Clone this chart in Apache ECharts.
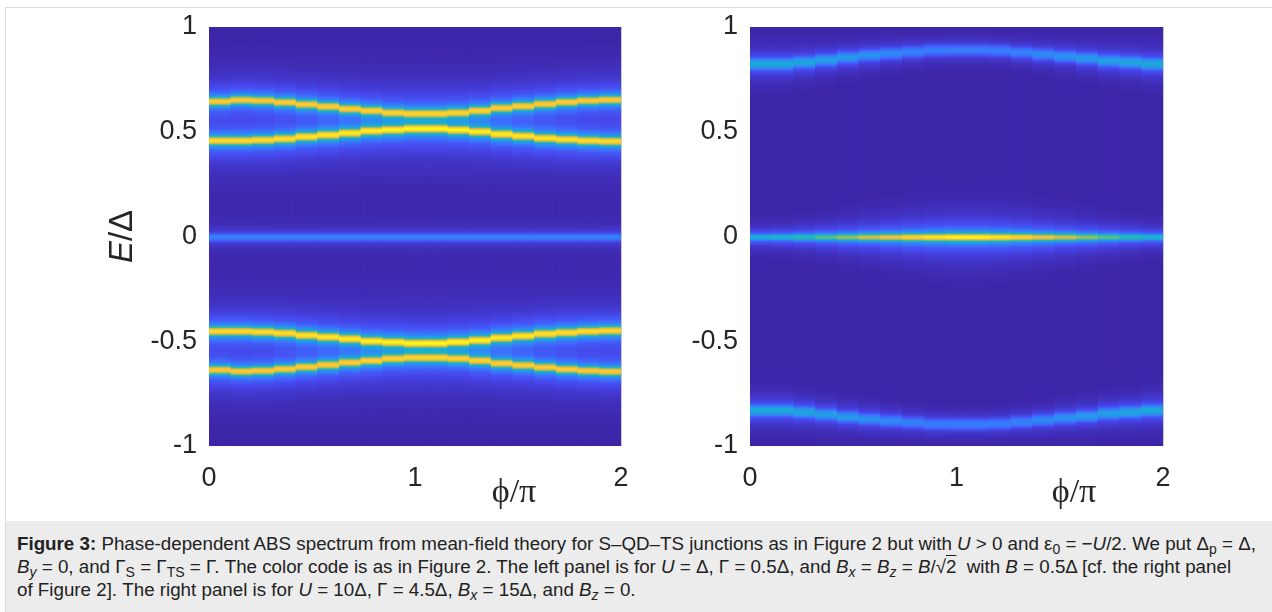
<!DOCTYPE html>
<html>
<head>
<meta charset="utf-8">
<script src="https://cdn.jsdelivr.net/npm/echarts@6/dist/echarts.min.js"></script>
<style>
  html, body { margin: 0; padding: 0; background: #fff; }
  #frame { position: absolute; left: 5px; top: 7px; width: 1267px; height: 605px;
           border-top: 1px solid #dcdcdc; border-left: 1px solid #dcdcdc; }
  #chart { position: absolute; left: 0; top: 0; width: 1272px; height: 520px; }
  #caption { position: absolute; left: 6px; top: 521px; width: 1266px; height: 91px;
             background: #ececec; box-sizing: border-box; padding: 11px 0 0 11px;
             font-family: 'Liberation Sans', Arial, sans-serif; font-size: 18.75px;
             line-height: 23px; color: #222; white-space: nowrap; }
  #caption sub { font-size: 0.75em; line-height: 0; vertical-align: -0.3em; }
  .sq { text-decoration: overline; }
</style>
</head>
<body>
<div id="frame"></div>
<div id="chart"></div>
<div id="caption">
  <b>Figure 3:</b> Phase-dependent ABS spectrum from mean-field theory for S–QD–TS junctions as in Figure 2 but with <i>U</i> &gt; 0 and ε<sub>0</sub> = −<i>U</i>/2. We put Δ<sub>p</sub> = Δ,<br>
  <i>B<sub>y</sub></i> = 0, and Γ<sub>S</sub> = Γ<sub>TS</sub> = Γ. The color code is as in Figure 2. The left panel is for <i>U</i> = Δ, Γ = 0.5Δ, and <i>B<sub>x</sub></i> = <i>B<sub>z</sub></i> = <i>B</i>/√<span class="sq">2</span>&nbsp; with <i>B</i> = 0.5Δ [cf. the right panel<br>
  of Figure 2]. The right panel is for <i>U</i> = 10Δ, Γ = 4.5Δ, <i>B<sub>x</sub></i> = 15Δ, and <i>B<sub>z</sub></i> = 0.
</div>
<script>
// Phase grid: 19 columns spanning phi/pi = 0 .. 2
const phiColumns = ['0.00','0.11','0.21','0.32','0.42','0.53','0.63','0.74','0.84','0.95','1.05','1.16','1.26','1.37','1.47','1.58','1.68','1.79','1.89'];
const xTickLabels = ['0', '1', '2'];
const yTickLabels = ['-1', '-0.5', '0', '0.5', '1'];

// Left panel: Andreev bound state energies E/Delta per phase column
const leftBandA = [0.648,0.655,0.652,0.644,0.634,0.624,0.613,0.604,0.594,0.590,0.590,0.594,0.604,0.617,0.626,0.636,0.645,0.652,0.656];
const leftBandB = [0.461,0.461,0.464,0.470,0.480,0.488,0.497,0.508,0.513,0.518,0.518,0.512,0.504,0.492,0.483,0.473,0.467,0.461,0.458];
const leftBandC = [-0.449,-0.449,-0.452,-0.458,-0.468,-0.476,-0.485,-0.496,-0.501,-0.506,-0.506,-0.500,-0.492,-0.480,-0.471,-0.461,-0.455,-0.449,-0.446];
const leftBandD = [-0.633,-0.640,-0.637,-0.629,-0.619,-0.609,-0.598,-0.589,-0.579,-0.575,-0.575,-0.579,-0.589,-0.602,-0.611,-0.621,-0.630,-0.637,-0.641];
const leftBandZero = [0,0,0,0,0,0,0,0,0,0,0,0,0,0,0,0,0,0,0];
// Left panel: peak spectral weight of each state (colour scale 0..1)
const leftPeakA = [0.86,0.86,0.86,0.87,0.87,0.88,0.88,0.89,0.89,0.90,0.90,0.89,0.89,0.88,0.88,0.87,0.87,0.86,0.86];
const leftPeakB = [0.92,0.92,0.93,0.94,0.95,0.96,0.97,0.98,0.99,1.00,1.00,0.99,0.98,0.97,0.96,0.95,0.94,0.93,0.92];
const leftPeakC = [0.92,0.92,0.93,0.94,0.95,0.96,0.97,0.98,0.99,1.00,1.00,0.99,0.98,0.97,0.96,0.95,0.94,0.93,0.92];
const leftPeakD = [0.86,0.86,0.86,0.87,0.87,0.88,0.88,0.89,0.89,0.90,0.90,0.89,0.89,0.88,0.88,0.87,0.87,0.86,0.86];
const leftPeakZero = [0.28,0.28,0.28,0.28,0.28,0.28,0.28,0.28,0.28,0.28,0.28,0.28,0.28,0.28,0.28,0.28,0.28,0.28,0.28];

// Right panel: state energies per phase column
const rightBandTop = [0.827,0.827,0.835,0.846,0.858,0.868,0.877,0.885,0.892,0.893,0.893,0.890,0.882,0.873,0.863,0.854,0.842,0.835,0.827];
const rightBandZero = [0,0,0,0,0,0,0,0,0,0,0,0,0,0,0,0,0,0,0];
const rightBandBottom = [-0.827,-0.827,-0.835,-0.846,-0.858,-0.868,-0.877,-0.885,-0.892,-0.893,-0.893,-0.890,-0.882,-0.873,-0.863,-0.854,-0.842,-0.835,-0.827];
const rightPeakTop = [0.40,0.40,0.38,0.36,0.34,0.32,0.30,0.28,0.27,0.27,0.27,0.27,0.28,0.30,0.32,0.34,0.36,0.38,0.40];
const rightPeakZero = [0.42,0.45,0.50,0.58,0.66,0.74,0.82,0.90,0.96,1.00,1.00,0.96,0.90,0.82,0.74,0.66,0.58,0.50,0.45];
const rightPeakBottom = [0.40,0.40,0.38,0.36,0.34,0.32,0.30,0.28,0.27,0.27,0.27,0.27,0.28,0.30,0.32,0.34,0.36,0.38,0.40];

// Parula-like colour map
const parula = ['#3e26a8','#4747eb','#3e6fff','#2797eb','#18b0d2','#33b8a2','#7dbf73','#c8bd4a','#fdbb3c','#f5d92b','#f9fb15'];

// Energy rows of the spectral map (one per pixel row of the plot)
const N_ROWS = 419;
const energyRows = [];
for (let r = 0; r < N_ROWS; r++) energyRows.push((-1 + (r + 0.5) * 2 / N_ROWS).toFixed(4));

// Line shape: Gaussian core with a Lorentzian halo
function lineShape(d, core, halo) {
  const g = Math.exp(-d * d / (2 * core * core));
  const l = 1 / Math.sqrt(1 + d * d / (halo * halo));
  return Math.max(g, l);
}

// Broadened spectral density for each (phase, energy) cell
function spectralCells(bands) {
  const cells = [];
  for (let j = 0; j < phiColumns.length; j++) {
    for (let r = 0; r < N_ROWS; r++) {
      const e = +energyRows[r];
      let s = 0;
      for (const b of bands) {
        const f = b.peak[j] * lineShape(e - b.pos[j], b.core, b.halo);
        s += f * f;
      }
      const v = Math.max(0, Math.min(1, (Math.sqrt(s) - 0.04) / 0.96));
      cells.push([j, r, v]);
    }
  }
  return cells;
}

const leftCells = spectralCells([
  { pos: leftBandA, peak: leftPeakA, core: 0.018, halo: 0.011 },
  { pos: leftBandB, peak: leftPeakB, core: 0.018, halo: 0.011 },
  { pos: leftBandC, peak: leftPeakC, core: 0.018, halo: 0.011 },
  { pos: leftBandD, peak: leftPeakD, core: 0.018, halo: 0.011 },
  { pos: leftBandZero, peak: leftPeakZero, core: 0.017, halo: 0.011 }
]);
const rightCells = spectralCells([
  { pos: rightBandTop, peak: rightPeakTop, core: 0.025, halo: 0.015 },
  { pos: rightBandZero, peak: rightPeakZero, core: 0.015, halo: 0.010 },
  { pos: rightBandBottom, peak: rightPeakBottom, core: 0.025, halo: 0.015 }
]);

// One rectangle per cell, overlapping its neighbours slightly to avoid seams
function renderCell(params, api) {
  const j = api.value(0), r = api.value(1);
  const c = api.coord([j, r]);
  const size = api.size([1, 1]);
  const padW = j < phiColumns.length - 1 ? 0.8 : 0;
  const padH = r > 0 ? 0.8 : 0;
  return {
    type: 'rect',
    shape: { x: c[0] - size[0] / 2, y: c[1] - size[1] / 2, width: size[0] + padW, height: size[1] + padH },
    style: { fill: api.visual('color') }
  };
}

const tickFont = { color: '#262626', fontSize: 27, fontFamily: 'Liberation Sans, Arial, sans-serif' };
const panels = [
  { left: 209, width: 412 },
  { left: 750, width: 413 }
];

const grids = [];
const xAxes = [];
const yAxes = [];
panels.forEach((p, i) => {
  // grid for the spectral cells
  grids.push({ left: p.left, top: 27, width: p.width, height: 419 });
  // overlay grid carrying the physical axes
  grids.push({ left: p.left, top: 27, width: p.width, height: 419 });
  xAxes.push({ type: 'category', gridIndex: 2 * i, data: phiColumns, show: false });
  yAxes.push({ type: 'category', gridIndex: 2 * i, data: energyRows, show: false });
  xAxes.push({
    type: 'value', gridIndex: 2 * i + 1, min: 0, max: 2, interval: 1,
    axisLine: { show: true, lineStyle: { color: '#c8c8c8', width: 1 } },
    axisTick: { show: false }, splitLine: { show: false },
    axisLabel: { ...tickFont, margin: 19, formatter: v => xTickLabels[Math.round(v)] }
  });
  yAxes.push({
    type: 'value', gridIndex: 2 * i + 1, min: -1, max: 1, interval: 0.5,
    axisLine: { show: false }, axisTick: { show: false }, splitLine: { show: false },
    axisLabel: { ...tickFont, margin: 12, padding: [4, 0, 0, 0], formatter: v => yTickLabels[Math.round((v + 1) * 2)] },
    name: i === 0 ? '{i|E}/Δ' : '',
    nameLocation: 'middle', nameGap: 70, nameRotate: 90,
    nameTextStyle: {
      color: '#262626', fontSize: 33, fontFamily: 'Liberation Sans, Arial, sans-serif',
      rich: { i: { fontStyle: 'italic', fontSize: 33, color: '#262626', fontFamily: 'Liberation Sans, Arial, sans-serif' } }
    }
  });
  yAxes.push({
    type: 'value', gridIndex: 2 * i + 1, position: 'right', min: -1, max: 1,
    axisLine: { show: true, onZero: false, lineStyle: { color: '#c8c8c8', width: 1 } },
    axisTick: { show: false }, axisLabel: { show: false }, splitLine: { show: false }
  });
});

const chart = echarts.init(document.getElementById('chart'), null, { renderer: 'canvas' });
chart.setOption({
  animation: false,
  backgroundColor: 'transparent',
  grid: grids,
  xAxis: xAxes,
  yAxis: yAxes,
  visualMap: {
    type: 'continuous', show: false, min: 0, max: 1, dimension: 2,
    seriesIndex: [0, 1], inRange: { color: parula }
  },
  series: [
    { type: 'custom', xAxisIndex: 0, yAxisIndex: 0, data: leftCells, encode: { x: 0, y: 1 }, renderItem: renderCell, progressive: 0, clip: true },
    { type: 'custom', xAxisIndex: 2, yAxisIndex: 3, data: rightCells, encode: { x: 0, y: 1 }, renderItem: renderCell, progressive: 0, clip: true }
  ],
  graphic: [
    { type: 'text', x: 514, y: 493, style: { text: 'ϕ/π', fontSize: 34, fontFamily: 'Liberation Serif, DejaVu Serif, serif', fill: '#262626', align: 'center', verticalAlign: 'middle' } },
    { type: 'text', x: 1074, y: 493, style: { text: 'ϕ/π', fontSize: 34, fontFamily: 'Liberation Serif, DejaVu Serif, serif', fill: '#262626', align: 'center', verticalAlign: 'middle' } }
  ]
});
</script>
</body>
</html>
